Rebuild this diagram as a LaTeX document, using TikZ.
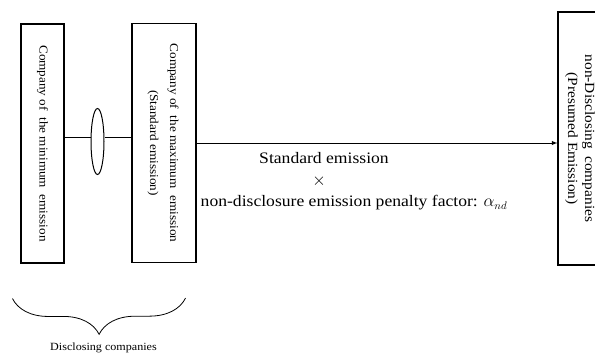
\documentclass[tikz,border=0pt]{standalone}
\usepackage{fontspec}
\setmainfont{Liberation Serif}[FakeStretch=1.1]
\usetikzlibrary{
    decorations.pathreplacing,
    arrows,
    shapes.geometric,
    positioning
}

\begin{document}
\begin{tikzpicture}[x=1pt, y=-1pt,
        firm/.style={draw, line width=1.1pt, inner sep=0pt},
        link/.style={line width=0.9pt}]
    \useasboundingbox (0, 0) rectangle (595, 358);
    \clip (0, 0) rectangle (595, 358);

    \node[firm, minimum width=43pt, minimum height=239pt, font=\fontsize{12}{18}\selectfont] (minfirm) at (42.5, 143.5)
        {\rotatebox{-90}{Company of\ \ the minimum\ \ emission}};
    \node[firm, minimum width=64pt, minimum height=239pt, font=\fontsize{12}{20}\selectfont] (maxfirm) at (164, 143)
        {\rotatebox{-90}{\begin{tabular}{@{}c@{}}Company of\ \ the maximum\ \ emission\\(Standard emission)\end{tabular}}};
    \node[firm, minimum width=44pt, minimum height=253pt, font=\fontsize{14}{17}\selectfont] (nondisc) at (580, 138.5)
        {\rotatebox{-90}{\begin{tabular}{@{}c@{}}non-Disclosing\ \ companies\\(Presumed Emission)\end{tabular}}};
    \node[draw, ellipse, line width=1pt, minimum width=13pt, minimum height=66pt, inner sep=0pt] (ring) at (97.5, 141.5) {};
    \coordinate (tie) at (0, 137);

    % lines are not centred on each other in the original
    \node[align=center, font=\fontsize{16}{21.5}\selectfont] (factor) at (339, 181.5)
        {\hspace*{-30pt}Standard emission\\\hspace*{-40pt}$\times$\\\hspace*{30pt}non-disclosure emission penalty factor: $\alpha_{nd}$};
    \node[font=\fontsize{11}{13}\selectfont] (disclosed) at (103.5, 348) {Disclosing companies};

    \draw[link]
    (minfirm.east |- tie) edge (ring.west |- tie)
    (ring.east |- tie) edge (maxfirm.west |- tie)
    (maxfirm.east) edge[-latex] (maxfirm.east -| nondisc.west);

    \draw[decorate, decoration={brace, mirror, amplitude=36pt}, line width=0.8pt]
    ([xshift=-8pt, yshift=-35pt]minfirm.south west) -- ([xshift=-11pt, yshift=-35pt]maxfirm.south east);
\end{tikzpicture}
\end{document}
